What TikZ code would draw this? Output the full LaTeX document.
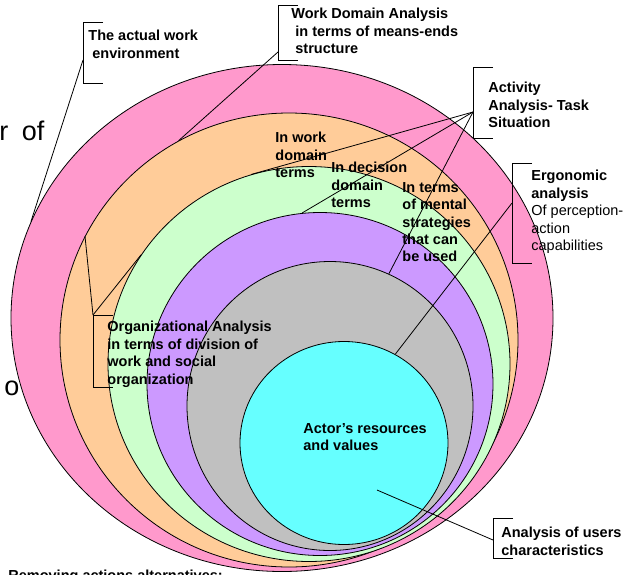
\documentclass[tikz,border=0pt]{standalone}
\usepackage{fontspec}
\setmainfont{Liberation Sans}
\usetikzlibrary{shapes.geometric}

\definecolor{envpink}{HTML}{FF99CC}
\definecolor{dompeach}{HTML}{FFCC99}
\definecolor{taskgreen}{HTML}{CCFFCC}
\definecolor{stratlilac}{HTML}{CC99FF}
\definecolor{ergogray}{HTML}{C0C0C0}
\definecolor{actorcyan}{HTML}{66FFFF}

\begin{document}
\begin{tikzpicture}[x=1pt, y=-1pt, line width=0.8pt,
  ring/.style = {shape=ellipse, draw, inner sep=0pt},
  lbl/.style = {anchor=north west, inner sep=0pt, align=left,
                font=\fontsize{14.5}{17.4}\selectfont\bfseries},
  big/.style = {anchor=base west, inner sep=0pt, font=\fontsize{27}{30}\selectfont}]

  \clip (0,0) rectangle (627,574);

  % nested layers, outside in
  \node[ring, fill=envpink,    minimum width=542pt, minimum height=507pt] (env)    at (282,318) {};
  \node[ring, fill=dompeach,   minimum width=458pt, minimum height=454pt] (dom)    at (289,340) {};
  \node[ring, fill=taskgreen,  minimum width=402pt, minimum height=395pt] (task)   at (309,364) {};
  \node[ring, fill=stratlilac, minimum width=346pt, minimum height=343pt] (strat)  at (320,384) {};
  \node[ring, fill=ergogray,   minimum width=286pt, minimum height=289pt] (ergo)   at (330,406) {};
  \node[ring, fill=actorcyan,  minimum width=208pt, minimum height=203pt] (actor)  at (344,443) {};

  % text behind the figure
  \node[big] (restr) at (-1,140) {r\hspace{6pt} of};
  \node[big] (resto) at (4,395) {o};

  % labels
  \node[lbl] (envtxt)   at (88,30)   {The actual work\\\hspace*{4pt}environment};
  \node[lbl] (wdatxt)   at (291,8)   {Work Domain Analysis\\\hspace*{4pt}in terms of means-ends\\\hspace*{4pt}structure};
  \node[lbl] (acttxt)   at (488,82)  {Activity\\Analysis- Task\\Situation};
  \node[lbl] (ergotxt)  at (531,170) {Ergonomic\\analysis\\\mdseries Of perception-\\\mdseries action\\\mdseries capabilities};
  \node[lbl] (orgtxt)   at (107,321) {Organizational Analysis\\in terms of division of\\work and social\\organization};
  \node[lbl] (usertxt)  at (501,527) {Analysis of users\\characteristics};
  \node[lbl] (actortxt) at (303,423) {Actor’s resources\\and values};
  \node[lbl] (worktxt)  at (275,132) {In work\\domain\\terms};
  \node[lbl] (dectxt)   at (331,162) {In decision\\domain\\terms};
  \node[lbl] (mentxt)   at (402,182) {In terms\\of mental\\strategies\\that can\\be used};
  \node[lbl] (remtxt)   at (8,570)   {Removing actions alternatives:};

  % brackets
  \draw (103,22)  -- (83,22)   -- (83,83)   -- (103,83);
  \draw (298,5)   -- (278,5)   -- (278,60)  -- (298,60);
  \draw (493,67)  -- (473,67)  -- (473,138) -- (493,138);
  \draw (532,163) -- (512,163) -- (512,263) -- (532,263);
  \draw (113,315) -- (93,315)  -- (93,387)  -- (113,387);
  \draw (513,518) -- (493,518) -- (493,558) -- (513,558);

  \coordinate (envbr)  at (83,60);
  \coordinate (wdabr)  at (278,52);
  \coordinate (actbr)  at (473,112);
  \coordinate (ergobr) at (512,203);
  \coordinate (orgbr)  at (93,315);
  \coordinate (userbr) at (493,540);
  \coordinate (userpt) at (377,490);

  % leaders
  \draw (envbr) -- (env.159);
  \draw (wdabr) -- (dom.119);
  \draw (actbr) -- (task.107);
  \draw (actbr) -- (strat.96);
  \draw (actbr) -- (ergo.66);
  \draw (ergobr) -- (actor.60);
  \draw (orgbr) -- (dom.153);
  \draw (orgbr) -- (task.147);
  \draw (userbr) -- (userpt);
\end{tikzpicture}
\end{document}
